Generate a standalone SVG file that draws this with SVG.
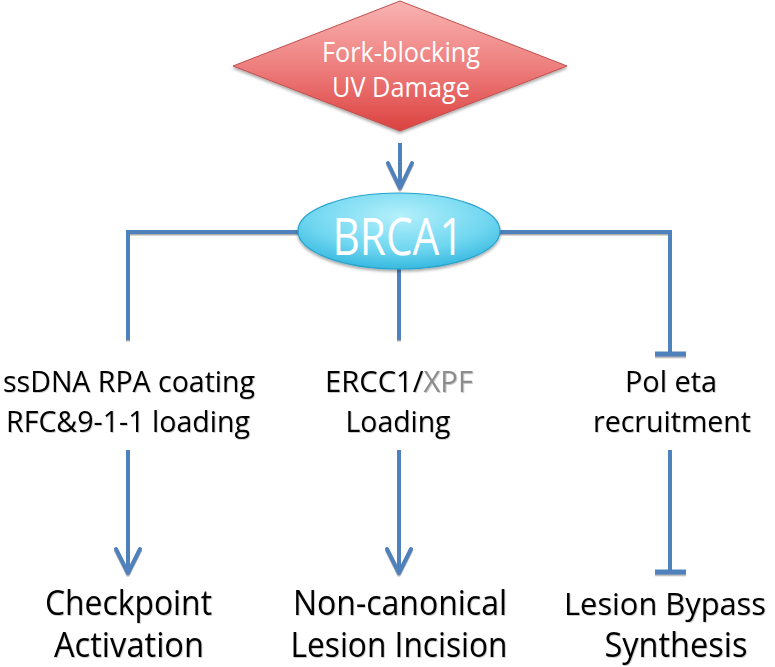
<svg xmlns="http://www.w3.org/2000/svg" width="775" height="667" viewBox="0 0 775 667">
<defs>
<linearGradient id="gRed" x1="0" y1="0" x2="0" y2="1">
<stop offset="0" stop-color="#f8b4b3"/>
<stop offset="0.5" stop-color="#ee7f7e"/>
<stop offset="1" stop-color="#db4240"/>
</linearGradient>
<radialGradient id="gCyan" cx="0.5" cy="0.3" r="0.75">
<stop offset="0" stop-color="#b4f0fb"/>
<stop offset="0.6" stop-color="#6fd6f0"/>
<stop offset="1" stop-color="#2cb3dc"/>
</radialGradient>
<filter id="sh" x="-10%" y="-10%" width="120%" height="130%">
<feDropShadow dx="0" dy="2" stdDeviation="1.5" flood-color="#000" flood-opacity="0.35"/>
</filter>
<filter id="lsh" x="-20%" y="-20%" width="140%" height="140%">
<feDropShadow dx="0" dy="1.5" stdDeviation="0.4" flood-color="#8a8a8a" flood-opacity="0.7"/>
</filter>
<filter id="tsh" x="-5%" y="-10%" width="110%" height="130%">
<feDropShadow dx="0.8" dy="0.8" stdDeviation="0.6" flood-color="#000" flood-opacity="0.25"/>
</filter>
</defs>
<style>
.ln{fill:none;stroke:#4f81bd;stroke-width:4;stroke-linecap:butt;stroke-linejoin:miter}
.ah{fill:none;stroke:#4f81bd;stroke-width:4;stroke-linecap:round;stroke-linejoin:round}
.t{font-family:"Open Sans","Liberation Sans",sans-serif;fill:#000;text-anchor:middle}
.m{font-size:30px}
.b{font-size:34px}
.w{font-family:"Open Sans","Liberation Sans",sans-serif;fill:#fff;text-anchor:middle}
</style>
<rect width="775" height="667" fill="#fff"/>

<g id="connectors" filter="url(#lsh)">
<line class="ln" x1="400" y1="143" x2="400" y2="188"/>
<polyline class="ah" points="388,163 400,188 412,163"/>
<polyline class="ln" points="300,232 128,232 128,340"/>
<line class="ln" x1="399" y1="268" x2="399" y2="340"/>
<polyline class="ln" points="498,232 670,232 670,352"/>
<line x1="655" y1="354" x2="686" y2="354" stroke="#4f81bd" stroke-width="5"/>
<line class="ln" x1="128" y1="450" x2="128" y2="573"/>
<polyline class="ah" points="116,549 128,573 140,549"/>
<line class="ln" x1="399" y1="450" x2="399" y2="573"/>
<polyline class="ah" points="387,549 399,573 411,549"/>
<line class="ln" x1="670" y1="450" x2="670" y2="570"/>
<line x1="655" y1="572" x2="686" y2="572" stroke="#4f81bd" stroke-width="5"/>
</g>

<g id="damage">
<polygon points="400,1 567,66 400,131 233,66" fill="url(#gRed)" stroke="#c0504d" stroke-width="1" filter="url(#sh)"/>
<text class="w" x="401" y="62" font-size="27" textLength="158" lengthAdjust="spacingAndGlyphs">Fork-blocking</text>
<text class="w" x="401" y="97" font-size="27" textLength="138" lengthAdjust="spacingAndGlyphs">UV Damage</text>
</g>

<g id="brca1">
<ellipse cx="399" cy="231" rx="101" ry="38" fill="url(#gCyan)" stroke="#27a3cc" stroke-width="1.2" filter="url(#sh)"/>
<text class="w" x="398" y="255" font-size="52" textLength="131" lengthAdjust="spacingAndGlyphs">BRCA1</text>
</g>

<g id="ssdna" filter="url(#tsh)">
<text class="t m" x="129" y="392" textLength="252" lengthAdjust="spacingAndGlyphs">ssDNA RPA coating</text>
<text class="t m" x="128" y="432" textLength="244" lengthAdjust="spacingAndGlyphs">RFC&amp;9-1-1 loading</text>
</g>

<g id="ercc1" filter="url(#tsh)">
<text class="t m" x="399" y="392" textLength="148" lengthAdjust="spacingAndGlyphs">ERCC1/<tspan fill="#8c8c8c">XPF</tspan></text>
<text class="t m" x="398" y="432" textLength="105" lengthAdjust="spacingAndGlyphs">Loading</text>
</g>

<g id="poleta" filter="url(#tsh)">
<text class="t m" x="671" y="392" textLength="92" lengthAdjust="spacingAndGlyphs">Pol eta</text>
<text class="t m" x="672" y="432" textLength="158" lengthAdjust="spacingAndGlyphs">recruitment</text>
</g>

<g id="checkpoint" filter="url(#tsh)">
<text class="t b" x="128.5" y="615" textLength="167" lengthAdjust="spacingAndGlyphs">Checkpoint</text>
<text class="t b" x="129" y="657" textLength="150" lengthAdjust="spacingAndGlyphs">Activation</text>
</g>

<g id="incision" filter="url(#tsh)">
<text class="t b" x="400" y="615" textLength="214" lengthAdjust="spacingAndGlyphs">Non-canonical</text>
<text class="t b" x="399" y="657" textLength="217" lengthAdjust="spacingAndGlyphs">Lesion Incision</text>
</g>

<g id="bypass" filter="url(#tsh)">
<text class="t" font-size="31" x="665" y="615" textLength="202" lengthAdjust="spacingAndGlyphs">Lesion Bypass</text>
<text class="t b" x="676" y="657" textLength="143" lengthAdjust="spacingAndGlyphs">Synthesis</text>
</g>
</svg>
